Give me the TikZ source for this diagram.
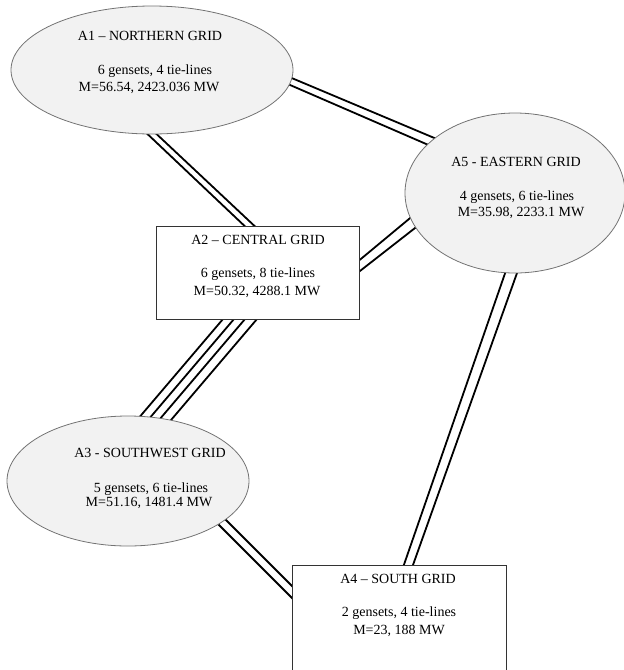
\documentclass[tikz,border=0pt]{standalone}
\usepackage{fontspec}
\setmainfont{Liberation Serif}
\usetikzlibrary{shapes.geometric,calc,backgrounds}
\begin{document}
\begin{tikzpicture}[x=1pt,y=-1pt,
  ell/.style={ellipse,draw=black!55,line width=0.8pt,fill=black!5,inner sep=0pt},
  box/.style={rectangle,draw=black!80,line width=0.9pt,fill=white,inner sep=0pt},
  lbl/.style={anchor=base,font=\fontsize{14}{17}\selectfont,inner sep=0pt},
  tie/.style={line width=1.8pt,black}]
\useasboundingbox (0,0) rectangle (624,670);
\clip (0,0) rectangle (624,670);
% areas
\node[ell,minimum width=282pt,minimum height=128pt] (a1) at (152,70) {};
\node[ell,minimum width=220pt,minimum height=160pt] (a5) at (515,193) {};
\node[box,minimum width=203pt,minimum height=93pt] (a2) at (257.5,272.5) {};
\node[ell,minimum width=242pt,minimum height=130pt] (a3) at (128,481) {};
\node[box,minimum width=214pt,minimum height=134pt] (a4) at (399,632) {};
% tie-lines
\begin{pgfonlayer}{background}
\draw[tie] ($(a1)+(123,1)$) -- ($(a5)+(-64,-48)$);
\draw[tie] ($(a1)+(115,5)$) -- ($(a5)+(-75,-43)$);
\draw[tie] ($(a1)+(-13,56)$) -- ($(a2)+(-5.5,-39.5)$);
\draw[tie] ($(a1)+(-4,56)$) -- ($(a2)+(4.5,-39.5)$);
\draw[tie] ($(a2)+(92.5,-4.5)$) -- ($(a5)+(-94,16)$);
\draw[tie] ($(a2)+(93.5,5.5)$) -- ($(a5)+(-91,28)$);
\draw[tie] ($(a2)+(-28.5,39.5)$) -- ($(a3)+(-8,-41)$);
\draw[tie] ($(a2)+(-17.5,39.5)$) -- ($(a3)+(3,-41)$);
\draw[tie] ($(a2)+(-6.5,39.5)$) -- ($(a3)+(14,-41)$);
\draw[tie] ($(a2)+(5.5,39.5)$) -- ($(a3)+(26,-41)$);
\draw[tie] ($(a3)+(82,35)$) -- ($(a4)+(-94,-21)$);
\draw[tie] ($(a3)+(94,35)$) -- ($(a4)+(-82,-21)$);
\draw[tie] ($(a5)+(-5,66)$) -- ($(a4)+(0,-53)$);
\draw[tie] ($(a5)+(7,66)$) -- ($(a4)+(9,-53)$);
\end{pgfonlayer}
% labels
\node[lbl] (t1a) at (150,40) {A1 – NORTHERN GRID};
\node[lbl] (t1b) at (155,74) {6 gensets, 4 tie-lines};
\node[lbl] (t1c) at (149,91) {M=56.54, 2423.036 MW};
\node[lbl] (t5a) at (516,166.5) {A5 - EASTERN GRID};
\node[lbl] (t5b) at (517,200) {4 gensets, 6 tie-lines};
\node[lbl] (t5c) at (521,216.5) {M=35.98, 2233.1 MW};
\node[lbl] (t2a) at (258,244.5) {A2 – CENTRAL GRID};
\node[lbl] (t2b) at (258,277) {6 gensets, 8 tie-lines};
\node[lbl] (t2c) at (257,295.5) {M=50.32, 4288.1 MW};
\node[lbl] (t3a) at (150,457.5) {A3 - SOUTHWEST GRID};
\node[lbl] (t3b) at (151,492) {5 gensets, 6 tie-lines};
\node[lbl] (t3c) at (149,506) {M=51.16, 1481.4 MW};
\node[lbl] (t4a) at (398,583.5) {A4 – SOUTH GRID};
\node[lbl] (t4b) at (399,616) {2 gensets, 4 tie-lines};
\node[lbl] (t4c) at (399,634.5) {M=23, 188 MW};
\end{tikzpicture}
\end{document}
